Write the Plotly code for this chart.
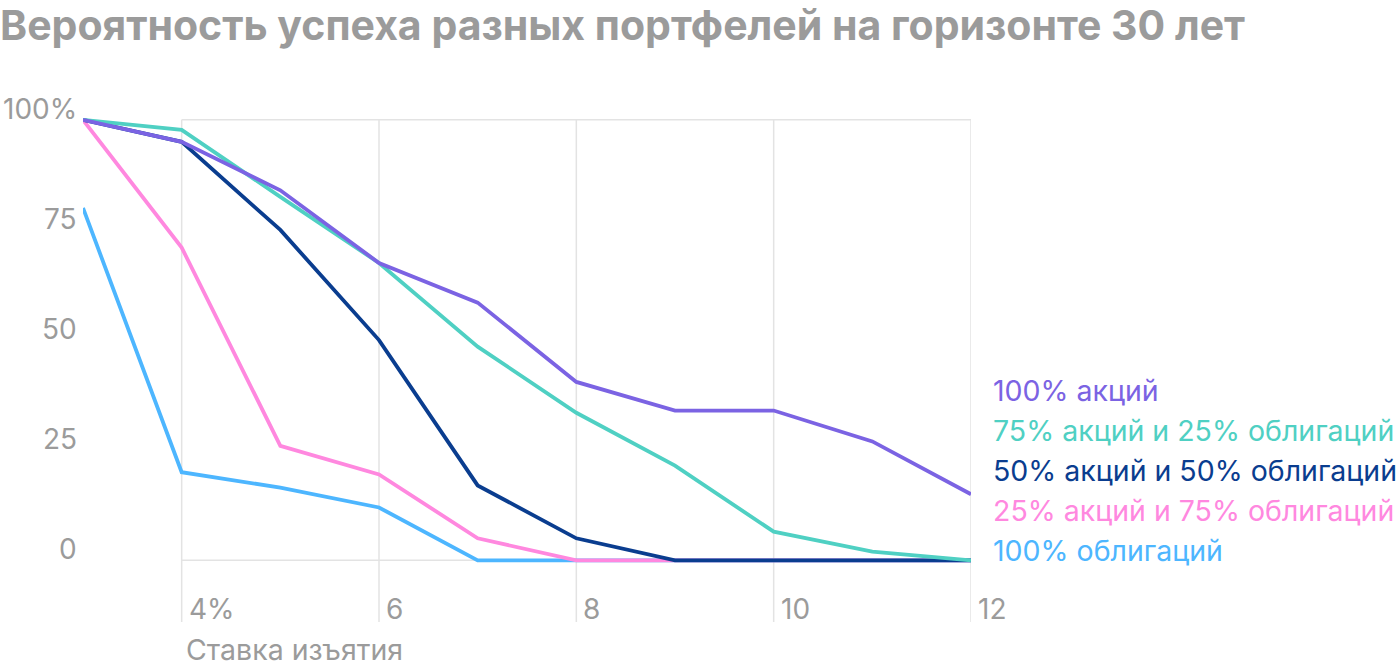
import plotly.graph_objects as go

rates = [3, 4, 5, 6, 7, 8, 9, 10, 11, 12]
stocks100 = [100, 95, 84, 67.5, 58.5, 40.5, 34, 34, 27, 15]
s75b25 = [100, 97.7, 82.5, 67.5, 48.5, 33.5, 21.5, 6.5, 2, 0]
s50b50 = [100, 95, 75, 50, 17, 5, 0, 0, 0, 0]
s25b75 = [100, 71, 26, 19.5, 5, 0, 0, 0, 0, 0]
bonds100 = [80, 20, 16.5, 12, 0, 0, 0, 0, 0, 0]

names = ["100% акций", "75% акций и 25% облигаций", "50% акций и 50% облигаций",
         "25% акций и 75% облигаций", "100% облигаций"]
series = [stocks100, s75b25, s50b50, s25b75, bonds100]
colors = ["#7b63e3", "#4fd0c3", "#0a3d8f", "#ff88df", "#4db6ff"]

x_ticks = [4, 6, 8, 10, 12]
x_tick_text = ["4%", "6", "8", "10", "12"]
y_ticks = [0, 25, 50, 75, 100]
y_tick_text = ["0", "25", "50", "75", "100%"]

GRAY = "#9b9b9b"
GRID = "#e3e3e3"
FONT = "Inter"

fig = go.Figure()
for name, ys, c in reversed(list(zip(names, series, colors))):
    fig.add_trace(go.Scatter(x=rates, y=ys, mode="lines", name=name,
                             line=dict(color=c, width=3.8), showlegend=False))

shapes = []
for xv in x_ticks:
    shapes.append(dict(type="line", xref="x", yref="y", x0=xv, x1=xv, y0=-14, y1=100,
                       line=dict(color=GRID, width=1.5), layer="below"))
for yv in [0, 100]:
    shapes.append(dict(type="line", xref="x", yref="y", x0=4, x1=12, y0=yv, y1=yv,
                       line=dict(color=GRID, width=1.5), layer="below"))

ann = []
for xv, t in zip(x_ticks, x_tick_text):
    ann.append(dict(x=xv, y=-11, xref="x", yref="y", text=t, showarrow=False,
                    xanchor="left", yanchor="middle", xshift=5,
                    font=dict(family=FONT, size=28, color=GRAY)))
for yv, t in zip(y_ticks, y_tick_text):
    ann.append(dict(x=3, y=yv, xref="x", yref="y", text=t, showarrow=False,
                    xanchor="right", yanchor="middle", xshift=-4, yshift=11,
                    font=dict(family=FONT, size=28, color=GRAY)))
ann.append(dict(x=4, y=-0.053, xref="x", yref="paper", text="Ставка изъятия", showarrow=False,
                xanchor="left", yanchor="middle", xshift=2,
                font=dict(family=FONT, size=28.5, color=GRAY)))
legend_y = [38.6, 29.5, 20.5, 11.4, 2.3]
for name, c, yv in zip(names, colors, legend_y):
    ann.append(dict(x=12, y=yv, xref="x", yref="y", text=name, showarrow=False,
                    xanchor="left", yanchor="middle", xshift=20,
                    font=dict(family=FONT, size=28.5, color=c)))

fig.update_layout(
    width=1400, height=672,
    margin=dict(l=83, r=429, t=111, b=50),
    paper_bgcolor="white", plot_bgcolor="white",
    title=dict(text="<b>Вероятность успеха разных портфелей на горизонте 30 лет</b>",
               x=0, xref="container", xanchor="left", y=0.962, yanchor="middle",
               font=dict(family=FONT, size=41, color=GRAY), pad=dict(l=0)),
    xaxis=dict(range=[3, 12], showgrid=False, zeroline=False, showticklabels=False,
               showline=False, fixedrange=True),
    yaxis=dict(range=[-14, 102], showgrid=False, zeroline=False, showticklabels=False,
               showline=False, fixedrange=True),
    shapes=shapes, annotations=ann,
)
fig.write_html("out.html")
